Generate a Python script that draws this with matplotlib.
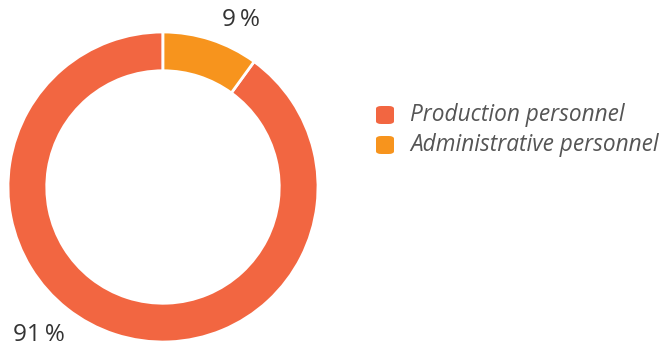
import matplotlib.pyplot as plt
from matplotlib.patches import FancyBboxPatch

# data
labels = ["Production personnel", "Administrative personnel"]
pct_labels = ["91\u2009%", "9\u2009%"]
shares = [90, 10]          # arc sizes as measured on the ring
colors = ["#F26641", "#F7941D"]

plt.rcParams['font.family'] = ['Open Sans', 'DejaVu Sans']

fig = plt.figure(figsize=(6.59, 3.48), dpi=100)
W, H = 659, 348

# donut
ax = fig.add_axes([8 / W, 6 / H, 310 / W, 310 / H])
wedges, _ = ax.pie(shares, colors=colors, startangle=90, counterclock=True,
                   radius=1, wedgeprops=dict(width=0.25, edgecolor="white", linewidth=2))
ax.set_xlim(-1, 1)
ax.set_ylim(-1, 1)
ax.axis("off")

# percentage labels
fig.text(241 / W, 1 - 20 / H, pct_labels[1], fontsize=17.5, color="#333333",
         ha="center", va="center")
fig.text(39 / W, 1 - 335 / H, pct_labels[0], fontsize=17.5, color="#333333",
         ha="center", va="center")

# legend
for i, (lab, c) in enumerate(zip(labels, colors)):
    y = 115 + i * 30
    fig.patches.append(FancyBboxPatch((376 / W, 1 - (y + 9) / H), 18 / W, 18 / H,
                                      boxstyle="round,pad=0,rounding_size=0.008",
                                      transform=fig.transFigure, facecolor=c,
                                      edgecolor="none"))
    fig.text(410 / W, 1 - y / H, lab, fontsize=16.3, style="italic", color="#555555",
             ha="left", va="center")

fig.savefig("out.png", dpi=100)
